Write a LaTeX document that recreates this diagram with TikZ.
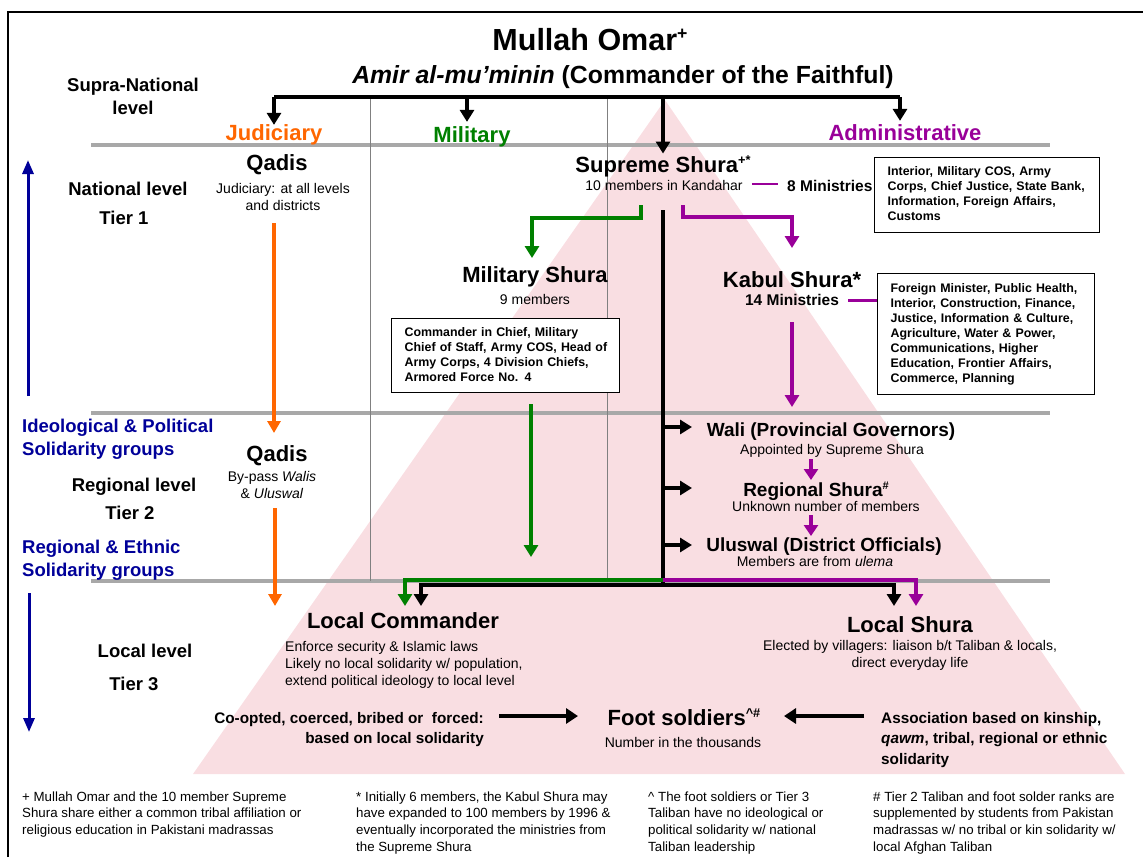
\documentclass[tikz,border=0pt]{standalone}
\usepackage{fontspec}
\setmainfont{Liberation Sans}
\usetikzlibrary{arrows.meta,calc}
\definecolor{jorange}{RGB}{255,102,0}
\definecolor{mgreen}{RGB}{0,128,0}
\definecolor{apurple}{RGB}{153,0,153}
\definecolor{lblue}{RGB}{0,0,153}
\definecolor{pyr}{RGB}{249,222,226}
\definecolor{rulegray}{RGB}{168,168,168}
\newcommand{\rowtext}[2]{\begin{tabular}[t]{@{}#1@{}}#2\end{tabular}}
\newcommand{\supmark}[1]{\raisebox{0.34em}{\fontsize{0.58em}{0.6em}\selectfont #1}}
\tikzset{
  txt/.style={inner sep=0pt, anchor=base},
  title/.style={txt, font=\fontsize{30.5}{36}\selectfont\bfseries},
  subtitle/.style={txt, font=\fontsize{24.8}{29}\selectfont\bfseries},
  branch/.style={txt, font=\fontsize{22}{26}\selectfont\bfseries},
  hd/.style={txt, font=\fontsize{22}{26}\selectfont\bfseries},
  md/.style={txt, font=\fontsize{19}{23}\selectfont\bfseries},
  sm/.style={txt, font=\fontsize{14}{17}\selectfont},
  smb/.style={txt, font=\fontsize{15.5}{18}\selectfont\bfseries},
  lv/.style={txt, font=\fontsize{18.5}{23}\selectfont\bfseries},
  grp/.style={txt, anchor=base west, text=lblue, font=\fontsize{18.5}{23}\selectfont\bfseries},
  note/.style={txt, anchor=base west, font=\fontsize{13.3}{16.7}\selectfont},
  side/.style={txt, font=\fontsize{15.3}{20.5}\selectfont\bfseries},
  listbox/.style={draw, line width=1.3pt, fill=white, inner xsep=13pt, inner ysep=0pt,
    anchor=north west, align=left, font=\fontsize{12.4}{15}\selectfont\bfseries},
  bigtip/.style={-{Triangle[width=14pt,length=12pt]}},
  blk/.style={line width=4pt, bigtip},
  grn/.style={draw=mgreen, line width=4pt, -{Triangle[width=14pt,length=12pt,fill=mgreen]}},
  prp/.style={draw=apurple, line width=4pt, -{Triangle[width=14pt,length=12pt,fill=apurple]}},
  org/.style={draw=jorange, line width=3.5pt, -{Triangle[width=13pt,length=12pt,fill=jorange]}},
  blu/.style={draw=lblue, line width=3pt, -{Triangle[width=11pt,length=14pt,fill=lblue]}},
  divider/.style={rulegray, line width=4pt},
  colline/.style={draw=gray, line width=0.7pt}
}
\begin{document}
\begin{tikzpicture}[x=1pt,y=-1pt]
\useasboundingbox (0,0) rectangle (1143,857);

% background pyramid
\fill[pyr] (665,100) -- (1125,774) -- (193,774) -- cycle;

% outer frame (top and left)
\draw[line width=1.6pt] (8,857) -- (8,12) -- (1143,12);

% tier dividers and column separators
\draw[divider] (91,145) -- (1050,145);
\draw[divider] (91,413) -- (1050,413);
\draw[divider] (91,581) -- (1050,581);
\draw[colline] (370,97) -- (370,581);
\draw[colline] (607,97) -- (607,581);

% ---------- top ----------
\node[title] (omar) at (590,50) {Mullah Omar\supmark{+}};
\node[subtitle] (amir) at (623,83) {\textit{Amir al-mu’minin} (Commander of the Faithful)};

\node[branch, text=jorange] (jud) at (274,140) {Judiciary};
\node[branch, text=mgreen] (mil) at (472,142) {Military};
\node[branch, text=apurple] (adm) at (905,140) {Administrative};

\coordinate (b1) at (274,97);
\coordinate (b2) at (467,97);
\coordinate (b3) at (663,97);
\coordinate (b4) at (900,97);
\draw[line width=4pt] (b1) -- (b4);
\draw[blk] (b1) -- (b1 |- jud.north) [shorten >=-1pt];
\draw[blk, shorten >=4pt] (b2) -- (b2 |- mil.north);
\draw[blk, shorten >=3pt] (b4) -- (b4 |- adm.north);

% ---------- left level labels ----------
\node[lv] (supra) at (133,91) {\rowtext{c}{Supra-National\\level}};
\node[lv] (nat) at (128,195) {National level};
\node[lv] (tier1) at (124,224) {Tier 1};
\node[grp] (ideo) at (22,432) {\rowtext{l}{Ideological \& Political\\Solidarity groups}};
\node[lv] (regl) at (134,491) {Regional level};
\node[lv] (tier2) at (130,519) {Tier 2};
\node[grp] (ethn) at (22,553) {\rowtext{l}{Regional \& Ethnic\\Solidarity groups}};
\node[lv] (locl) at (145,657) {Local level};
\node[lv] (tier3) at (134,690) {Tier 3};

\coordinate (upS) at (28,396);
\coordinate (upE) at (28,160);
\coordinate (dnS) at (29,593);
\coordinate (dnE) at (29,732);
\draw[blu] (upS) -- (upE);
\draw[blu] (dnS) -- (dnE);

% ---------- judiciary ----------
\node[hd] (q1) at (277,170) {Qadis};
\node[sm] (q1sub) at (283,193) {\rowtext{c}{Judiciary: at all levels\\and districts}};
\node[hd] (q2) at (277,461) {Qadis};
\node[sm] (q2sub) at (272,481) {\rowtext{c}{By-pass \textit{Walis}\\\& \textit{Uluswal}}};
\coordinate (o1s) at (274,223);
\coordinate (o1e) at (274,433);
\coordinate (o2s) at (275,508);
\coordinate (o2e) at (275,606);
\draw[org] (o1s) -- (o1e);
\draw[org] (o2s) -- (o2e);

% ---------- supreme shura ----------
\node[hd] (ss) at (663,172) {Supreme Shura\supmark{+*}};
\draw[blk, shorten >=2pt] (b3) -- (ss.north);
\node[sm] (sssub) at (664,190) {10 members in Kandahar};
\node[smb, anchor=base west] (min8) at (787,191) {8 Ministries};
\draw[apurple, line width=2.5pt, shorten <=9pt, shorten >=9pt] ([yshift=1pt]sssub.east) -- ([yshift=1pt]sssub.east -| min8.west);
\node[listbox, text width=199pt, minimum height=75pt] (box8) at (874,157)
  {\rowtext{l}{Interior, Military COS, Army\\Corps, Chief Justice, State Bank,\\Information, Foreign Affairs,\\Customs}};

% ---------- military ----------
\coordinate (g0) at (641,205);
\coordinate (gT) at (532,258);
\draw[grn] (g0) -- ++(0,13) -| (gT);
\node[hd] (msh) at (535,282) {Military Shura};
\node[sm] (mshsub) at (535,304) {9 members};
\node[listbox, text width=202pt, minimum height=74pt] (mbox) at (391,318)
  {\rowtext{l}{Commander in Chief, Military\\Chief of Staff, Army COS, Head of\\Army Corps, 4 Division Chiefs,\\Armored Force No. 4}};
\coordinate (gm0) at (531,404);
\coordinate (gm1) at (531,557);
\draw[grn] (gm0) -- (gm1);

% ---------- kabul shura ----------
\coordinate (p0) at (683,205);
\coordinate (pT) at (792,248);
\draw[prp] (p0) -- ++(0,12) -| (pT);
\node[hd] (kab) at (792,287) {Kabul Shura*};
\node[smb] (kabsub) at (792,305) {14 Ministries};
\node[listbox, text width=191pt, minimum height=121pt] (kbox) at (877,273)
  {\rowtext{l}{Foreign Minister, Public Health,\\Interior, Construction, Finance,\\Justice, Information \& Culture,\\Agriculture, Water \& Power,\\Communications, Higher\\Education, Frontier Affairs,\\Commerce, Planning}};
\draw[apurple, line width=2.5pt, shorten <=9pt] ([yshift=-1pt]kabsub.east) -- ([yshift=-1pt]kabsub.east -| kbox.west);
\coordinate (pk0) at (792,322);
\coordinate (pk1) at (792,407);
\draw[prp] (pk0) -- (pk1);

% ---------- regional tier ----------
\coordinate (c0) at (663,210);
\coordinate (c1) at (663,585);
\draw[line width=4.5pt] (c0) -- (c1);

\node[md] (wali) at (831,436) {Wali (Provincial Governors)};
\node[sm] (walisub) at (832,454) {Appointed by Supreme Shura};
\node[md] (reg) at (816,496) {Regional Shura\supmark{\#}};
\node[sm] (regsub) at (826,511) {Unknown number of members};
\node[md] (ulu) at (824,551) {Uluswal (District Officials)};
\node[sm] (ulusub) at (815,566) {Members are from \textit{ulema}};

\coordinate (w0) at (663,427);
\coordinate (wT) at (692,427);
\coordinate (r0) at (663,488);
\coordinate (rT) at (692,488);
\coordinate (u0) at (663,545);
\coordinate (uT) at (692,545);
\draw[blk] (w0) -- (wT);
\draw[blk] (r0) -- (rT);
\draw[blk] (u0) -- (uT);

\coordinate (pw0) at (811,459);
\coordinate (pw1) at (811,480);
\coordinate (pr0) at (811,515);
\coordinate (pr1) at (811,536);
\draw[draw=apurple, line width=4pt, -{Triangle[width=14pt,length=11pt,fill=apurple]}] (pw0) -- (pw1);
\draw[draw=apurple, line width=4pt, -{Triangle[width=14pt,length=11pt,fill=apurple]}] (pr0) -- (pr1);

% ---------- local tier ----------
\coordinate (cg) at (663,580);
\coordinate (lcG) at (405,606);
\coordinate (lcB) at (421,606);
\coordinate (lsB) at (894,606);
\coordinate (lsP) at (916,606);
\draw[grn] (cg) -| (lcG);
\draw[prp] (cg) -| (lsP);
\draw[line width=4pt, {Triangle[width=14pt,length=12pt]}-{Triangle[width=14pt,length=12pt]}] (lcB) |- (c1) -| (lsB);

\node[hd] (lc) at (403,628) {Local Commander};
\node[sm, anchor=base west] (lcsub) at (285,651)
  {\rowtext{l}{Enforce security \& Islamic laws\\Likely no local solidarity w/ population,\\extend political ideology to local level}};
\node[hd] (ls) at (910,632) {Local Shura};
\node[sm] (lssub) at (910,650)
  {\rowtext{c}{Elected by villagers: liaison b/t Taliban \& locals,\\direct everyday life}};

\node[hd] (fs) at (684,725) {Foot soldiers\supmark{\textasciicircum\#}};
\node[sm] (fssub) at (683,747) {Number in the thousands};
\node[side, anchor=base east] (coop) at (484,723)
  {\rowtext{r}{Co-opted, coerced, bribed or \ forced:\\based on local solidarity}};
\node[side, anchor=base west] (assoc) at (881,723)
  {\rowtext{l}{Association based on kinship,\\\textit{qawm}, tribal, regional or ethnic\\solidarity}};
\coordinate (a1s) at (499,716);
\coordinate (a1e) at (578,716);
\coordinate (a2s) at (864,716);
\coordinate (a2e) at (784,716);
\draw[line width=4.5pt, -{Triangle[width=15pt,length=12pt]}] (a1s) -- (a1e);
\draw[line width=4.5pt, -{Triangle[width=15pt,length=12pt]}] (a2s) -- (a2e);

% ---------- footnotes ----------
\node[note] (fn1) at (22,801)
  {\rowtext{l}{+ Mullah Omar and the 10 member Supreme\\Shura share either a common tribal affiliation or\\religious education in Pakistani madrassas}};
\node[note] (fn2) at (356,801)
  {\rowtext{l}{* Initially 6 members, the Kabul Shura may\\have expanded to 100 members by 1996 \&\\eventually incorporated the ministries from\\the Supreme Shura}};
\node[note] (fn3) at (648,801)
  {\rowtext{l}{\textasciicircum\ The foot soldiers or Tier 3\\Taliban have no ideological or\\political solidarity w/ national\\Taliban leadership}};
\node[note] (fn4) at (873,801)
  {\rowtext{l}{\# Tier 2 Taliban and foot solder ranks are\\supplemented by students from Pakistan\\madrassas w/ no tribal or kin solidarity w/\\local Afghan Taliban}};
\end{tikzpicture}
\end{document}
